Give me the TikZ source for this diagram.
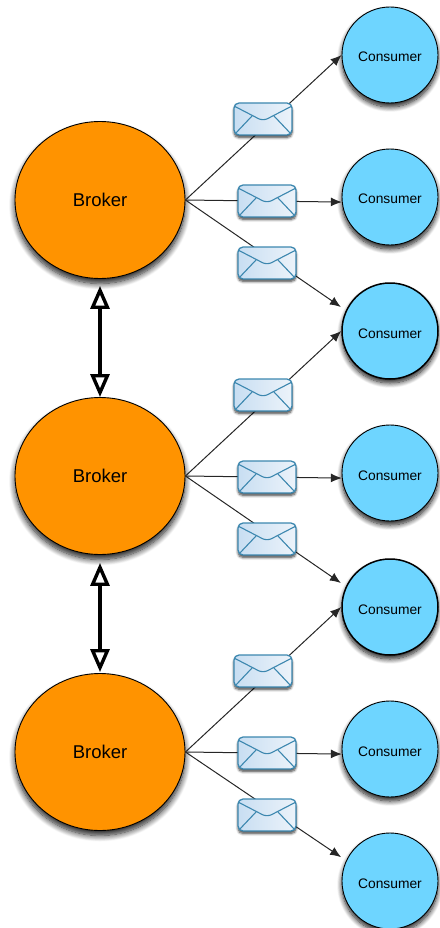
\documentclass[tikz,border=0pt]{standalone}
\usepackage{fontspec}
\setmainfont{Liberation Sans}
\usetikzlibrary{arrows.meta,shapes.geometric,shadows.blur}

\tikzset{
  brokernode/.style={ellipse,draw=black,line width=0.9pt,fill=brokerorange,minimum width=170pt,minimum height=157pt,inner sep=0pt,font=\fontsize{18.5}{18.5}\selectfont,blur shadow={shadow xshift=0pt,shadow yshift=-5pt,shadow blur steps=10,shadow blur radius=6pt,shadow opacity=90}},
  consumernode/.style={circle,draw=black,line width=0.9pt,fill=consumerblue,minimum size=96pt,inner sep=0pt,text height=14pt,text depth=0pt,font=\fontsize{13.8}{13.8}\selectfont,blur shadow={shadow xshift=0pt,shadow yshift=-4pt,shadow blur steps=10,shadow blur radius=5pt,shadow opacity=90}},
  envelopenode/.style={rectangle,rounded corners=5pt,draw=envelopeblue,line width=1.3pt,left color=envelopelight,right color=envelopepale,minimum width=58pt,minimum height=32pt,inner sep=0pt,blur shadow={shadow xshift=0pt,shadow yshift=-2.5pt,shadow blur steps=6,shadow blur radius=2.5pt,shadow opacity=75},
    path picture={
      \draw[envelopeblue,line width=1.1pt]
        (path picture bounding box.north west) ++(0pt,-3pt) -- ++(29pt,-15pt) -- ++(29pt,15pt);
      \draw[envelopeblue,line width=1.1pt]
        (path picture bounding box.south west) -- ++(18pt,19pt);
      \draw[envelopeblue,line width=1.1pt]
        (path picture bounding box.south east) -- ++(-18pt,19pt);
    }},
  messageline/.style={-{Latex[length=11pt,width=9pt]},line width=1pt,draw=black!85},
  linkline/.style={{Triangle[open,length=23pt,width=19pt,line width=3.4pt]}-{Triangle[open,length=23pt,width=19pt,line width=3.4pt]},line width=4pt}
}
\definecolor{brokerorange}{RGB}{255,147,0}
\definecolor{consumerblue}{RGB}{110,213,255}
\definecolor{envelopeblue}{RGB}{60,135,175}
\definecolor{envelopelight}{RGB}{200,222,242}
\definecolor{envelopepale}{RGB}{236,243,250}

\begin{document}
\begin{tikzpicture}[x=1pt,y=-1pt]
\useasboundingbox (0,0) rectangle (439,928);

% brokers
\node[brokernode] (b1) at (100,200) {Broker};
\node[brokernode] (b2) at (100,276+200) {Broker};
\node[brokernode] (b3) at (100,552+200) {Broker};

% consumers
\node[consumernode] (c1) at (390,55) {Consumer};
\node[consumernode] (c2) at (390,197) {Consumer};
\node[consumernode,line width=1.5pt] (c3) at (390,331) {Consumer};
\node[consumernode] (c4) at (390,276+197) {Consumer};
\node[consumernode,line width=1.5pt] (c5) at (390,276+331) {Consumer};
\node[consumernode] (c6) at (390,552+197) {Consumer};
\node[consumernode] (c7) at (390,881) {Consumer};

% messages
\draw[messageline] (b1.east) -- (c1.west);
\draw[messageline] (b1.east) -- (c2.186);
\draw[messageline,shorten >=6pt] (b1.east) -- (c3.155);

\draw[messageline] (b2.east) -- (c3.west);
\draw[messageline] (b2.east) -- (c4.186);
\draw[messageline,shorten >=6pt] (b2.east) -- (c5.155);

\draw[messageline] (b3.east) -- (c5.west);
\draw[messageline] (b3.east) -- (c6.186);
\draw[messageline,shorten >=6pt] (b3.east) -- (c7.155);

% envelopes
\node[envelopenode] (e1) at (263,119) {};
\node[envelopenode] (e2) at (267,201) {};
\node[envelopenode] (e3) at (267,263) {};

\node[envelopenode] (e4) at (263,276+119) {};
\node[envelopenode] (e5) at (267,276+201) {};
\node[envelopenode] (e6) at (267,276+263) {};

\node[envelopenode] (e7) at (263,552+119) {};
\node[envelopenode] (e8) at (267,552+201) {};
\node[envelopenode] (e9) at (267,552+263) {};

% links between brokers
\draw[linkline,shorten <=7pt] (b1.south) -- (b2.north);
\draw[linkline,shorten <=8pt,shorten >=1pt] (b2.south) -- (b3.north);
\end{tikzpicture}
\end{document}
